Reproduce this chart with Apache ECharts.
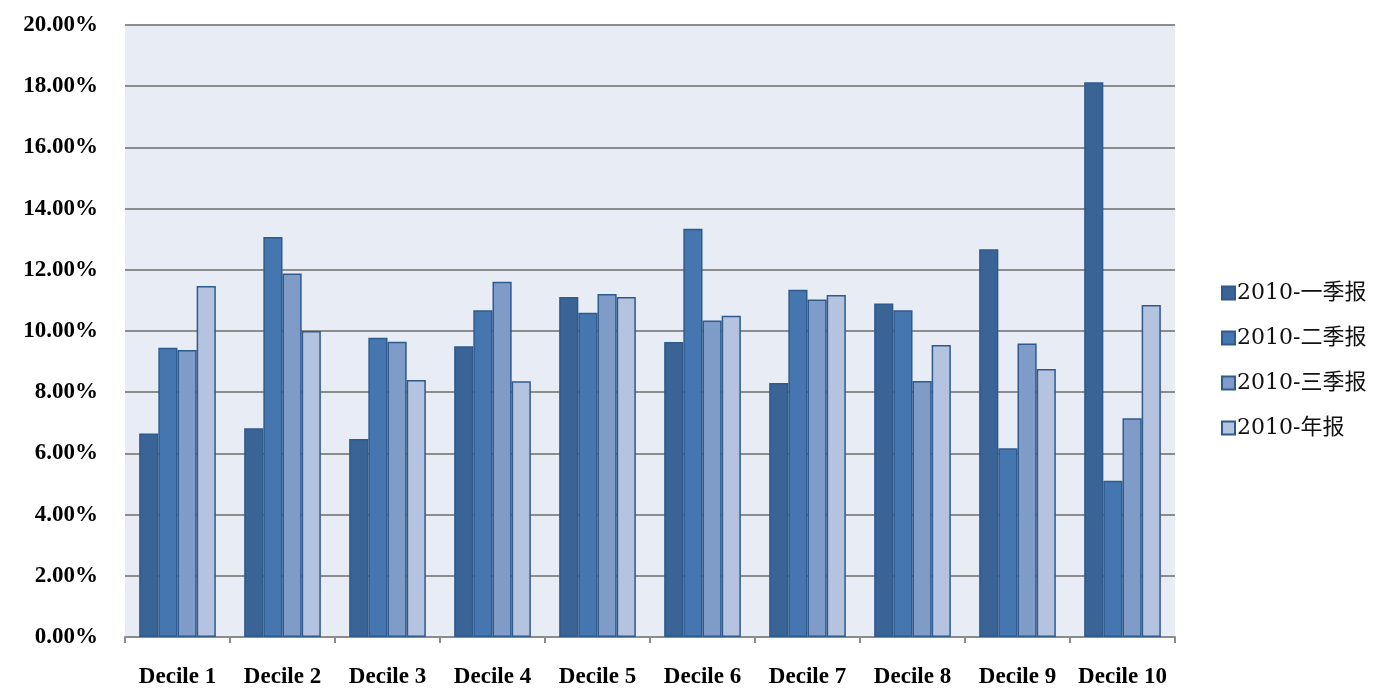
<!DOCTYPE html>
<html>
<head>
<meta charset="utf-8">
<script src="https://cdn.jsdelivr.net/npm/echarts@6/dist/echarts.min.js"></script>
<style>html,body{margin:0;padding:0;background:#fff;}#c{width:1383px;height:696px;}</style>
</head>
<body>
<div id="c"></div>
<script>
const categories = ['Decile 1','Decile 2','Decile 3','Decile 4','Decile 5','Decile 6','Decile 7','Decile 8','Decile 9','Decile 10'];
const seriesNames = ['2010-一季报','2010-二季报','2010-三季报','2010-年报'];
const q1 = [6.65, 6.82, 6.47, 9.50, 11.11, 9.64, 8.30, 10.90, 12.67, 18.13];
const q2 = [9.45, 13.07, 9.78, 10.68, 10.60, 13.34, 11.35, 10.68, 6.17, 5.11];
const q3 = [9.38, 11.88, 9.65, 11.61, 11.21, 10.34, 11.03, 8.37, 9.59, 7.15];
const annual = [11.47, 10.00, 8.40, 8.36, 11.11, 10.50, 11.18, 9.54, 8.76, 10.85];
const yTicks = {min: 0, max: 20, interval: 2};

const colors = ['#3A6496', '#4676B0', '#7F9CC9', '#B4C3DF'];
const dataSets = [q1, q2, q3, annual];

const chart = echarts.init(document.getElementById('c'));
chart.setOption({
  animation: false,
  grid: {left: 125, right: 208, top: 25, bottom: 59, show: true, backgroundColor: '#E8ECF4', borderWidth: 0},
  legend: {
    orient: 'vertical', left: 1216, top: 277, itemGap: 23, itemWidth: 13, itemHeight: 13,
    icon: 'rect',
    textStyle: {fontFamily: 'DejaVu Serif, Noto Sans CJK SC', fontSize: 22, color: '#111', padding: [0,0,0,-3]},
    data: seriesNames
  },
  xAxis: {
    type: 'category', data: categories,
    axisLine: {show: true, lineStyle: {color: '#8c8c8c', width: 2}},
    axisTick: {show: true, interval: 0, length: 6, lineStyle: {color: '#8c8c8c', width: 2}},
    axisLabel: {interval: 0, margin: 29, fontFamily: 'Liberation Serif', fontWeight: 'bold', fontSize: 23, color: '#000'}
  },
  yAxis: {
    type: 'value', min: yTicks.min, max: yTicks.max, interval: yTicks.interval,
    axisLine: {show: false}, axisTick: {show: false},
    splitLine: {lineStyle: {color: '#8c8c8c', width: 2}},
    axisLabel: {margin: 27, fontFamily: 'Liberation Serif', fontWeight: 'bold', fontSize: 23, color: '#000',
      formatter: v => v.toFixed(2) + '%'}
  },
  series: dataSets.map((d, i) => ({
    name: seriesNames[i], type: 'bar', data: d,
    barGap: '0%', barCategoryGap: '27%',
    itemStyle: {color: colors[i], borderColor: '#2F5A8C', borderWidth: 1.5}
  }))
});
</script>
</body>
</html>
